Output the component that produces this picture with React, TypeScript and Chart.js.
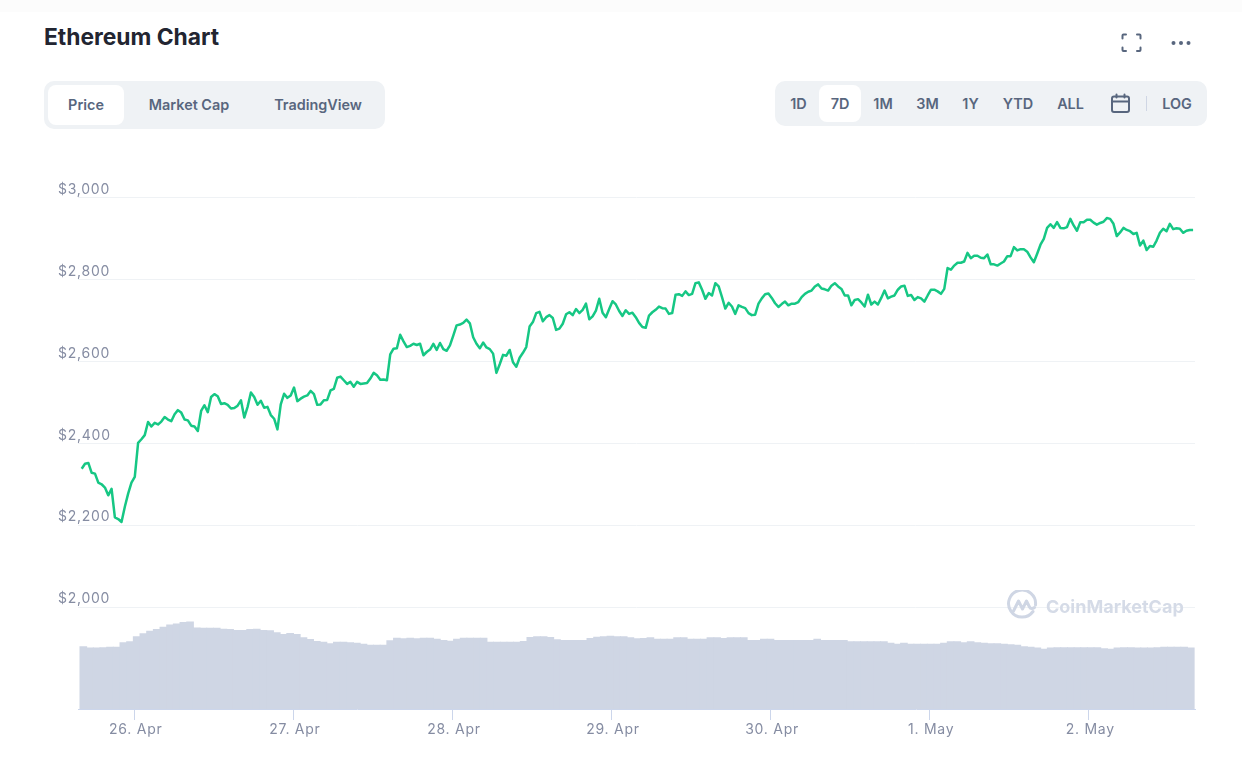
import { Chart, registerables } from 'chart.js';
import { useEffect, useRef } from 'react';

Chart.register(...registerables);

const dayTicks = [0, 1, 2, 3, 4, 5, 6];
const dayLabels = ['26. Apr', '27. Apr', '28. Apr', '29. Apr', '30. Apr', '1. May', '2. May'];
const priceTicks = [2000, 2200, 2400, 2600, 2800, 3000];

const chartTabs = ['Price', 'Market Cap', 'TradingView'];
const ranges = ['1D', '7D', '1M', '3M', '1Y', 'YTD', 'ALL'];

// half-hourly price
const prices = [
  2338, 2350, 2352, 2328, 2326, 2304, 2300, 2292, 2273, 2289, 2219, 2215, 2208, 2245, 2277, 2304, 2318, 2401, 2410, 2420,
  2452, 2441, 2450, 2446, 2453, 2464, 2458, 2454, 2471, 2481, 2475, 2458, 2456, 2443, 2441, 2430, 2479, 2493, 2476, 2513,
  2520, 2515, 2496, 2498, 2494, 2485, 2486, 2492, 2505, 2463, 2489, 2524, 2513, 2494, 2504, 2487, 2489, 2469, 2460, 2434,
  2495, 2521, 2511, 2517, 2536, 2503, 2509, 2514, 2517, 2528, 2520, 2494, 2495, 2505, 2506, 2529, 2533, 2560, 2563, 2554,
  2545, 2550, 2538, 2550, 2545, 2546, 2547,
  2558, 2572, 2566, 2555, 2556, 2554, 2617, 2631, 2632, 2665, 2649, 2635, 2638, 2643, 2640, 2643, 2615, 2623, 2629, 2643,
  2628, 2645, 2630, 2626, 2639, 2663, 2688, 2690, 2694, 2702, 2693, 2659, 2643, 2632, 2646, 2634, 2630, 2619, 2572, 2593,
  2616, 2614, 2628, 2598, 2587, 2609, 2621, 2635, 2685, 2696, 2718, 2721, 2698, 2708, 2713, 2706, 2677, 2680, 2692, 2715,
  2720, 2713, 2728, 2718, 2726, 2741, 2703, 2710, 2724, 2753, 2719, 2708, 2728, 2747, 2739, 2723, 2711, 2725, 2716, 2719,
  2708, 2694, 2684, 2682,
  2712, 2720, 2726, 2734, 2730, 2729, 2716, 2718, 2763, 2764, 2760, 2771, 2762, 2765, 2791, 2793, 2775, 2753, 2767, 2761,
  2791, 2783, 2757, 2729, 2743, 2734, 2716, 2737, 2733, 2730, 2718, 2713, 2714, 2741, 2754, 2764, 2766, 2755, 2742, 2733,
  2740, 2746, 2737, 2741, 2741, 2745, 2757, 2765, 2770, 2773, 2783, 2788, 2778, 2776, 2773, 2785, 2791, 2783, 2777, 2761,
  2761, 2737, 2750, 2752, 2744, 2734, 2763, 2739, 2746, 2739, 2755, 2773, 2754, 2758, 2761, 2775, 2783, 2785, 2760, 2762,
  2750, 2757, 2754,
  2746, 2761, 2775, 2775, 2771, 2765, 2777, 2828, 2824, 2834, 2841, 2841, 2844, 2865, 2852, 2858, 2858, 2853, 2852, 2861,
  2837, 2837, 2834, 2839, 2844, 2857, 2857, 2879, 2871, 2874, 2874, 2868, 2854, 2842, 2863, 2885, 2899, 2926, 2935, 2926,
  2940, 2926, 2925, 2928, 2948, 2932, 2919, 2940, 2940, 2946, 2946, 2939, 2934, 2938, 2941, 2950, 2948, 2936, 2906, 2915,
  2926, 2921, 2918, 2911, 2914, 2883, 2895, 2872, 2882, 2880, 2895, 2914, 2924, 2918, 2936, 2923, 2925, 2924, 2914, 2919,
  2921, 2921,
];

// hourly volume in $B, estimated
const volumes = [
  31.5, 30.8, 30.8, 31, 31.3, 31.2, 33.5, 34, 36.5, 38, 39.3, 40.2, 41.3, 42.5, 43, 43.7, 44, 41, 40.8, 40.8, 40.8, 40.3,
  40.2, 39.7, 39.7, 40.2, 40.3, 39.7, 39.5, 38.5, 37.7, 38.2, 37.7, 36, 35.2, 34.2, 33.8, 33, 33.7, 33.8, 33.5, 33.3,
  32.8, 32.2, 32.2, 32.2, 34.5, 35.8, 35.5, 35.8, 35.5, 35.8, 35.8, 35.3, 34.7, 34.3, 35.3, 35.8, 35.8, 35.8, 35.8, 33.8,
  33.8, 33.8, 33.8, 33.8, 34.2, 36.2, 36.5, 36.5, 36.2, 35, 34.7, 34.7, 34.7, 34.7, 35.7, 36.3, 36.5, 36.8, 36.5, 36.5,
  36, 35.5, 35.7, 36, 35.3, 35.3, 35.3, 36, 36, 35.3, 35.3, 35.3, 36, 36, 35.7, 36, 36, 36, 34.7, 34.7, 35.3, 35.3, 34.7,
  34.7, 34.7, 34.7, 34.7, 34.7, 35.3, 34.7, 34.7, 34.7, 34.7, 34, 34, 34, 34, 34, 34, 33.3, 32.7, 33.3, 32.8, 32.8, 32.7,
  32.7, 32.7, 33.2, 34, 34, 33.5, 34, 33.5, 33.2, 33, 33, 32.7, 32.5, 32.2, 31.5, 31.2, 30.8, 30.2, 30.8, 31, 31, 31, 31,
  31, 31, 31, 30.5, 30.2, 30.8, 31, 31, 30.8, 30.8, 30.8, 31, 31.3, 31.3, 31.2, 31.2, 30.8,
];

const priceStart = -0.3307;
const priceEnd = 6.656;
const volumeStart = -0.3206;
const volumeEnd = 6.6416;

const toPoints = (values: number[], start: number, end: number) =>
  values.map((y, i) => ({ x: start + (i * (end - start)) / (values.length - 1), y }));

const boxBase = { position: 'absolute', background: '#eff2f5' } as const;
const labelBase = {
  position: 'absolute',
  font: '600 14.4px Inter',
  color: '#58667e',
  transform: 'translateX(-50%)',
  whiteSpace: 'nowrap',
} as const;

const tabCentres = [86, 189, 318];
const rangeCentres = [798.5, 840, 883, 927.5, 970.5, 1018, 1070.5];

// tick labels in the reference are spaced out a little
const labelSpacing = {
  id: 'labelSpacing',
  beforeDraw: (chart: any) => {
    chart.ctx.letterSpacing = '0.75px';
  },
};

const App = () => {
  const canvasRef = useRef<HTMLCanvasElement | null>(null);

  useEffect(() => {
    if (!canvasRef.current) return;

    const chart = new Chart(canvasRef.current, {
      type: 'bar',
      plugins: [labelSpacing],
      data: {
        datasets: [
          {
            type: 'line',
            data: toPoints(prices, priceStart, priceEnd),
            borderColor: '#16c784',
            borderWidth: 2.5,
            pointRadius: 0,
            borderJoinStyle: 'round',
            yAxisID: 'y',
            order: 1,
          },
          {
            type: 'bar',
            data: toPoints(volumes, volumeStart, volumeEnd),
            backgroundColor: '#cfd6e4',
            borderWidth: 0,
            barThickness: 7,
            yAxisID: 'volume',
            order: 2,
          },
        ],
      },
      options: {
        responsive: false,
        animation: false,
        layout: { padding: { top: 197.6, right: 47, left: 0, bottom: 0 } },
        plugins: {
          legend: { display: false },
          tooltip: { enabled: false },
        },
        scales: {
          x: {
            type: 'linear',
            min: -0.354,
            max: 6.668,
            offset: false,
            afterFit: (axis: any) => {
              axis.height = 59;
            },
            afterBuildTicks: (axis: any) => {
              axis.ticks = dayTicks.map((value) => ({ value }));
            },
            border: { color: '#ccd6eb' },
            grid: {
              offset: false,
              drawOnChartArea: false,
              color: '#ccd6eb',
              tickLength: 11,
            },
            ticks: {
              maxRotation: 0,
              autoSkip: false,
              color: '#858ca2',
              font: { family: 'Inter', size: 14 },
              padding: 1,
              labelOffset: 1.5,
              callback: (value: any) => dayLabels[dayTicks.indexOf(value)],
            },
          },
          y: {
            position: 'left',
            min: 1751.2,
            max: 3000,
            afterFit: (axis: any) => {
              axis.width = 78;
            },
            afterBuildTicks: (axis: any) => {
              axis.ticks = priceTicks.map((value) => ({ value }));
            },
            border: { display: false },
            grid: { color: '#eff2f5', drawTicks: false },
            ticks: {
              mirror: true,
              color: '#858ca2',
              font: { family: 'Inter', size: 14 },
              padding: -20,
              labelOffset: -8,
              callback: (value: any) => '$' + value.toLocaleString('en-US'),
            },
          },
          volume: {
            display: false,
            min: 0,
            max: 258,
          },
        },
      },
    });

    return () => {
      chart.destroy();
    };
  }, []);

  return (
    <div
      style={{
        position: 'absolute',
        left: 0,
        top: 0,
        width: 1242,
        height: 768,
        background: '#fff',
        overflow: 'hidden',
        fontFamily: 'Inter',
      }}
    >
      <div style={{ position: 'absolute', left: 0, top: 0, width: 1242, height: 12, background: '#fcfcfc' }} />
      <div style={{ position: 'absolute', left: 44, top: 23, font: '700 22.800px Inter', color: '#222531' }}>
        Ethereum Chart
      </div>

      <svg style={{ position: 'absolute', left: 1120, top: 32 }} width="24" height="22" fill="none" stroke="#58667e" strokeWidth="2" strokeLinecap="round">
        <path d="M2.5 6.5V3.5a1 1 0 0 1 1-1H6M17 2.5h2.5a1 1 0 0 1 1 1v3M20.5 15.5v2.5a1 1 0 0 1-1 1H17M6 19H3.5a1 1 0 0 1-1-1v-2.500" />
      </svg>
      <svg style={{ position: 'absolute', left: 1170, top: 38 }} width="22" height="10" fill="#58667e">
        <circle cx="3.500" cy="5" r="2" />
        <circle cx="11" cy="5" r="2" />
        <circle cx="18.500" cy="5" r="2" />
      </svg>

      <div style={{ ...boxBase, left: 44, top: 81, width: 341, height: 48, borderRadius: 10 }} />
      <div style={{ position: 'absolute', left: 48, top: 85, width: 76, height: 40, borderRadius: 8, background: '#fff' }} />
      {chartTabs.map((tab, i) => (
        <div key={tab} style={{ ...labelBase, left: tabCentres[i], top: 96 }}>
          {tab}
        </div>
      ))}

      <div style={{ ...boxBase, left: 775, top: 81, width: 432, height: 45, borderRadius: 10 }} />
      <div style={{ position: 'absolute', left: 819, top: 85, width: 42, height: 37, borderRadius: 8, background: '#fff' }} />
      {ranges.map((range, i) => (
        <div key={range} style={{ ...labelBase, left: rangeCentres[i], top: 95 }}>
          {range}
        </div>
      ))}
      <svg style={{ position: 'absolute', left: 1110, top: 93 }} width="21" height="21" fill="none" stroke="#58667e" strokeWidth="2" strokeLinecap="round">
        <rect x="2" y="3.500" width="17" height="15.500" rx="2" />
        <path d="M2 8.500h17M6.500 1.500v3M14.500 1.500v3" />
      </svg>
      <div style={{ position: 'absolute', left: 1146, top: 96, width: 1, height: 15, background: '#cfd6e4' }} />
      <div style={{ ...labelBase, left: 1177, top: 95 }}>LOG</div>

      <canvas ref={canvasRef} width={1242} height={768} style={{ position: 'absolute', left: 0, top: 0 }} />

      <svg style={{ position: 'absolute', left: 1006, top: 590 }} width="32" height="32" fill="none" stroke="#cfd6e4" strokeWidth="3" strokeLinecap="round" strokeLinejoin="round">
        <path d="M27 21.500A13.500 13.500 0 1 1 29.500 15" />
        <path d="M7.500 21l5-10 4 8 4-8 3 6c1 2 3 2 5 0.500" />
      </svg>
      <div style={{ position: 'absolute', left: 1046, top: 596, font: '700 18px Inter', color: '#d5dbe7', whiteSpace: 'nowrap' }}>
        CoinMarketCap
      </div>
    </div>
  );
};

export default App;
